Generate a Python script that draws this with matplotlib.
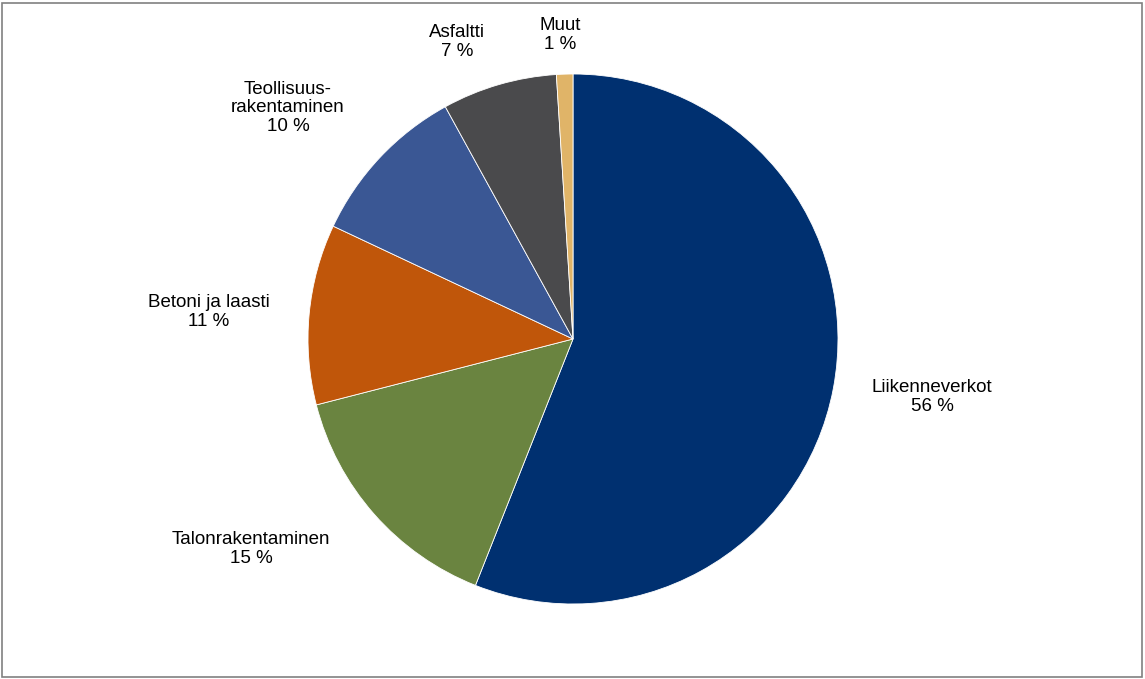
import matplotlib.pyplot as plt

labels = ['Liikenneverkot', 'Talonrakentaminen', 'Betoni ja laasti',
          'Teollisuus-\nrakentaminen', 'Asfaltti', 'Muut']
shares = [56, 15, 11, 10, 7, 1]
colors = ['#003070', '#6A8440', '#C0560A', '#3A5794', '#4A4A4C', '#E0B468']
# label centres in pixels (from top-left)
label_pos = [(932, 397), (251, 549), (209, 312), (288, 108), (457, 42), (560, 35)]

W, H = 1145, 679
fig = plt.figure(figsize=(W / 100, H / 100), dpi=100)
ax = fig.add_axes([0, 0, 1, 1])
ax.set_xlim(0, W)
ax.set_ylim(0, H)
ax.set_aspect('equal')
ax.axis('off')

ax.pie(shares, colors=colors, startangle=90, counterclock=False,
       center=(573, H - 339), radius=265,
       wedgeprops=dict(edgecolor='white', linewidth=0.6))

for lab, val, (x, y) in zip(labels, shares, label_pos):
    ax.text(x, H - y, f'{lab}\n{val} %', ha='center', va='center',
            fontsize=13.5, family='Liberation Sans', linespacing=1.15)

ax.add_patch(plt.Rectangle((2, 2), W - 5, H - 5, fill=False,
                           edgecolor='#808080', linewidth=1.2))
ax.set_xlim(0, W)
ax.set_ylim(0, H)

fig.savefig('out.png', dpi=100)
